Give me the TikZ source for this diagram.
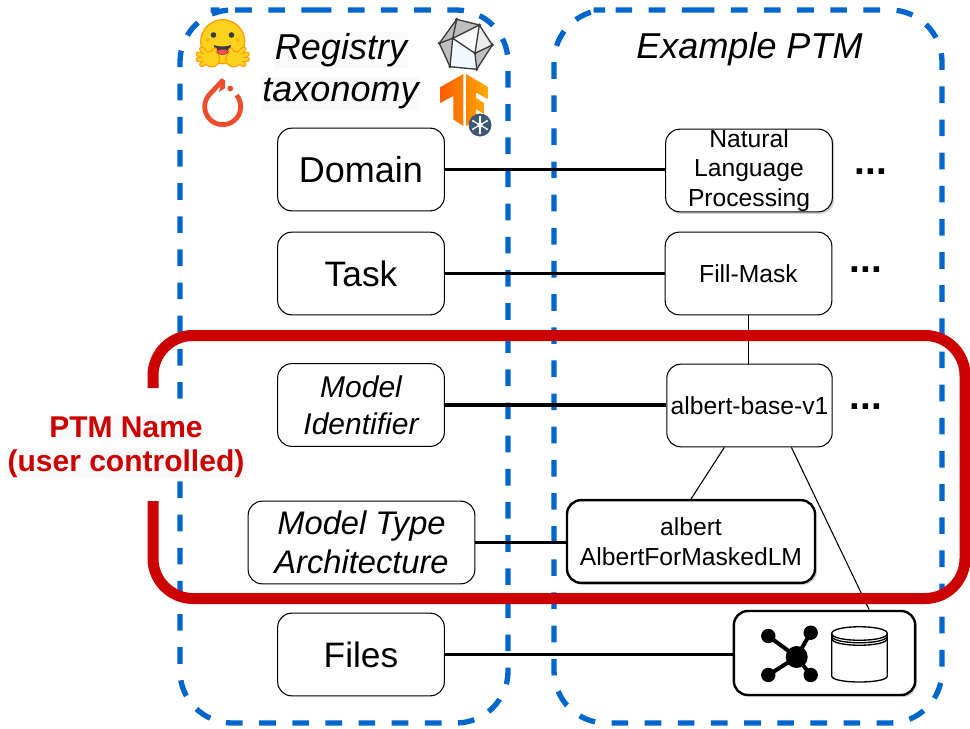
\documentclass[tikz,border=0pt]{standalone}
\usepackage{fontspec}
\setmainfont{Liberation Sans}
\usetikzlibrary{shadows}
\definecolor{bluedash}{HTML}{0066CC}
\definecolor{redbox}{HTML}{CC0000}
\definecolor{hfy}{HTML}{FFD21E}
\definecolor{hfo}{HTML}{FF9D0B}
\definecolor{hfd}{HTML}{3A3B45}
\definecolor{pt}{HTML}{EE4C2C}
\definecolor{slate}{HTML}{3F5873}
\definecolor{mask}{HTML}{FAFAFA}
\definecolor{polyline}{HTML}{3A3A3A}
\newcommand{\fs}[1]{\fontsize{#1pt}{1.2\dimexpr #1pt\relax}\selectfont}
\tikzset{
  x=0.75pt,y=-0.75pt,
  panel/.style={draw=bluedash,line width=4pt,rounded corners=39pt,dash pattern=on 12.5pt off 12.36pt},
  tbox/.style={draw=black,line width=.8pt,rounded corners=10.5pt,fill=white,inner sep=0pt,align=center,text=black},
  sbox/.style={tbox,drop shadow={shadow xshift=1.5pt,shadow yshift=-1.5pt,opacity=.35}},
  bigbox/.style={sbox,line width=1.8pt},
  link/.style={draw=black,line width=2.5pt},
  thin link/.style={draw=black,line width=.8pt},
  dots/.style={font=\fs{29}\bfseries,inner sep=0pt},
  mtext/.style={fill=mask,inner sep=1pt,text=black},
  redtext/.style={fill=mask,inner sep=1pt,text=redbox,font=\fs{22.5}\bfseries},
  spoke/.style={draw=white,line width=.9pt},
  polyedge/.style={draw=polyline,line width=1pt,line join=round},
  cyl/.style={draw=black,line width=1pt},
}
\begin{document}
\begin{tikzpicture}
\useasboundingbox (0,0) rectangle (970,728);
% panels
\draw[panel] (262.7,10) -- (508,10) -- (508,723) -- (180,723) -- (180,10) -- cycle;
\draw[panel] (645.7,10) -- (942,10) -- (942,723) -- (554,723) -- (554,10) -- cycle;
% header text
\node[mtext,font=\fs{27}\itshape] (reg) at (341,50) {Registry};
\node[mtext,font=\fs{27}\itshape] (tax) at (340.5,94) {taxonomy};
\node[font=\fs{27}\itshape,inner sep=0pt] (ex) at (749.5,49) {Example PTM};
% boxes
\node[tbox,minimum width=125pt,minimum height=62pt,font=\fs{27}] (domain) at (361,169.5) {Domain};
\node[tbox,minimum width=125pt,minimum height=62pt,font=\fs{26.5}] (task) at (361,273.5) {Task};
\node[tbox,minimum width=125pt,minimum height=62pt,font=\fs{22.5}\itshape] (mid) at (361,405) {Model\\[.5pt]Identifier};
\node[tbox,minimum width=170pt,minimum height=62pt,font=\fs{24.5}\itshape] (mta) at (361.5,542.5) {Model Type\\Architecture};
\node[tbox,minimum width=125pt,minimum height=62pt,font=\fs{26.5}] (files) at (361,654.5) {Files};
\node[sbox,minimum width=125pt,minimum height=62pt,font=\fs{18.5}] (nlp) at (749,170.5) {Natural\\Language\\Processing};
\node[tbox,minimum width=125pt,minimum height=62pt,font=\fs{18.5}] (fill) at (748.5,273.5) {Fill-Mask};
\node[tbox,minimum width=124pt,minimum height=62pt,font=\fs{18.5}] (abv) at (749.5,405.5) {albert-base-v1};
\node[bigbox,minimum width=186pt,minimum height=62pt,font=\fs{18.5}] (arch) at (691,541.5) {albert\\AlbertForMaskedLM};
\node[bigbox,minimum width=136pt,minimum height=63pt] (fic) at (824.5,653) {};
% connectors
\draw[link] (domain.east) -- (domain.east -| nlp.west);
\draw[link] (task.east) -- (task.east -| fill.west);
\draw[link] (mid.east) -- (mid.east -| abv.west);
\draw[link] (mta.east) -- (mta.east -| arch.west);
\draw[link] (files.east) -- (files.east -| fic.west);
\draw[thin link] (fill.south) -- (fill.south |- abv.north);
\draw[thin link] (abv.-121.6) -- (arch.north);
\draw[thin link] (abv.-45) -- (fic.44);
% ellipses
\node[dots] (d1) at (871,172) {...};
\node[dots] (d2) at (866,270) {...};
\node[dots] (d3) at (866,407) {...};
% network icon
\coordinate (neta) at (768.3,636);
\coordinate (netb) at (810.7,632.7);
\coordinate (netc) at (768.3,675);
\coordinate (nete) at (810.7,675);
\coordinate (netm) at (796.7,657);
\draw[black,line width=3pt] (neta) -- (netm) (netb) -- (netm) (netc) -- (netm) (nete) -- (netm);
\fill[black] (netm) circle[radius=11] (neta) circle[radius=7.2] (netb) circle[radius=7.2] (netc) circle[radius=7.2] (nete) circle[radius=7.2];
% cylinder
\draw[cyl] (831.7,633.5) .. controls (831.7,624.5) and (887.3,624.5) .. (887.3,633.5)
  -- (887.3,676) .. controls (887.3,684) and (831.7,684) .. (831.7,676) -- cycle;
\draw[cyl] (831.7,633.5) .. controls (831.7,642.5) and (887.3,642.5) .. (887.3,633.5);
\draw[cyl] (831.7,636) .. controls (831.7,645) and (887.3,645) .. (887.3,636);
\draw[cyl] (831.7,638.5) .. controls (831.7,647.5) and (887.3,647.5) .. (887.3,638.5);
% hugging face
\fill[hfy,draw=hfo,line width=1pt] (222.7,41.7) circle[radius=22];
\fill[hfd] (213.5,35) circle[radius=2.8] (231.5,35) circle[radius=2.8];
\fill[hfo!60!hfy] (207.5,40) circle[radius=2] (238,40) circle[radius=2];
\fill[hfd] (214,45) .. controls (218,47) and (227,47) .. (231,45) .. controls (231,51) and (227,55) .. (222.5,55) .. controls (218,55) and (214,51) .. (214,45) -- cycle;
\fill[red!70!white] (217,51) .. controls (219,49) and (226,49) .. (228,51) .. controls (226,56) and (219,56) .. (217,51) -- cycle;
\foreach \s in {1,-1}{
  \begin{scope}[shift={(222.7,0)},xscale=\s]
    \foreach \tx/\ty in {-21/49,-24.5/54,-24.5/59.5,-21/64.5,-8/50}{
      \draw[hfo,line width=4pt,line cap=round] (-11,59) -- (\tx,\ty);
    }
    \fill[hfo] (-11,59) circle[radius=8.5];
    \foreach \tx/\ty in {-21/49,-24.5/54,-24.5/59.5,-21/64.5,-8/50}{
      \draw[hfy,line width=2.4pt,line cap=round] (-11,59) -- (\tx,\ty);
    }
    \fill[hfy] (-11,59) circle[radius=7.2];
  \end{scope}
}
% pytorch
\draw[pt,line width=3.6pt,line join=miter] (236.5,95.1) arc[start angle=-40,end angle=225,radius=18] -- (223,80);
\fill[pt] (222.5,78.5) -- (225,80.5) -- (225,88) -- (219,92) -- cycle;
\fill[pt] (230.3,88.5) circle[radius=2.9];
% polyhedron
\coordinate (pa) at (456.7,19.3);
\coordinate (pb) at (479.3,25);
\coordinate (pc) at (492.3,45);
\coordinate (pd) at (476.7,69.3);
\coordinate (pe) at (450,66.7);
\coordinate (pf) at (439.3,43.3);
\coordinate (pg) at (452.7,38.3);
\coordinate (ph) at (475,53.3);
\fill[black!25] (pa) -- (pb) -- (pc) -- (pd) -- (pe) -- (pf) -- cycle;
\fill[black!2] (pg) -- (pb) -- (ph) -- cycle;
\fill[black!8] (pb) -- (pc) -- (ph) -- cycle;
\fill[cyan!6!white] (pg) -- (ph) -- (pd) -- (pe) -- cycle;
\draw[polyedge] (pa) -- (pb) -- (pc) -- (pd) -- (pe) -- (pf) -- cycle;
\draw[polyedge] (pa) -- (pg) -- (pb) -- (ph) -- (pc) (pg) -- (pf) (pg) -- (pe) (pg) -- (ph) -- (pd);
\fill[polyline] (pa) circle[radius=1.7] (pb) circle[radius=1.7] (pc) circle[radius=1.7] (pd) circle[radius=1.7] (pe) circle[radius=1.7] (pf) circle[radius=1.7] (ph) circle[radius=1.5];
% tensorflow
\shade[left color=orange!70!red,right color=yellow!35!orange]
  (440,87.3) -- (463.3,74) -- (463.3,126) -- (453.3,119.3) -- (453.3,96) -- (440,103) -- cycle
  (466,74) -- (487.7,86.7) -- (487.7,99) -- (476,92.5) -- (476,98) -- (484,103) -- (484,114) -- (476,109) -- (476,119.3) -- (466,126) -- cycle;
\fill[slate] (480,125) circle[radius=11.5];
\foreach \a in {30,90,150,210,270,330}{
  \draw[spoke] (480,125) -- ++(\a:8);
  \fill[white] (480,125) ++(\a:8) circle[radius=1.3];
}
\fill[white] (480,125) circle[radius=2.6];
% red frame
\draw[draw=redbox,line width=8.25pt,rounded corners=30pt] (153,388) -- (153,335.5) -- (965,335.5) -- (965,598.5) -- (153,598.5) -- (153,501);
% ptm label
\node[redtext] (ptm) at (126,427) {PTM Name};
\node[redtext] (uc) at (126,463.5) {(user controlled)};
\end{tikzpicture}
\end{document}
